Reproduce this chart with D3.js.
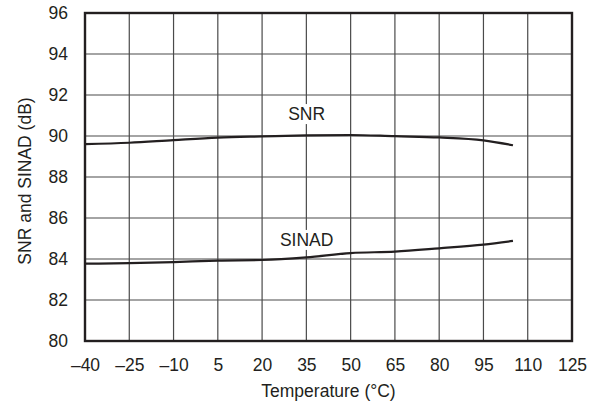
<!DOCTYPE html>
<html>
<head>
<meta charset="utf-8">
<script src="https://cdn.jsdelivr.net/npm/d3@7"></script>
<style>
  body { margin: 0; background: #fff; }
  text { font-family: "Liberation Sans", Arial, sans-serif; fill: #231f20; }
</style>
</head>
<body>
<svg id="chart" width="597" height="404"></svg>
<script>
// chart data
const temps = [-40, -25, -10, 5, 20, 35, 50, 65, 80, 95, 105];
const snr = [89.6, 89.67, 89.8, 89.92, 89.98, 90.03, 90.05, 89.99, 89.93, 89.79, 89.55];
const sinad = [83.77, 83.8, 83.85, 83.92, 83.95, 84.08, 84.29, 84.36, 84.52, 84.7, 84.88];
const xTicks = [-40, -25, -10, 5, 20, 35, 50, 65, 80, 95, 110, 125];
const yTicks = [80, 82, 84, 86, 88, 90, 92, 94, 96];

const margin = { top: 13, right: 25, bottom: 63, left: 85 };
const width = 597 - margin.left - margin.right;
const height = 404 - margin.top - margin.bottom;
const fontSize = 17.5;

const svg = d3.select("#chart");
const g = svg.append("g").attr("transform", `translate(${margin.left},${margin.top})`);

const x = d3.scaleLinear().domain([-40, 125]).range([0, width]);
const y = d3.scaleLinear().domain([80, 96]).range([height, 0]);

// grid
g.selectAll(".vgrid")
  .data(xTicks)
  .enter()
  .append("line")
  .attr("x1", (d) => x(d))
  .attr("x2", (d) => x(d))
  .attr("y1", 0)
  .attr("y2", height)
  .attr("stroke", "#4a4a4a")
  .attr("stroke-width", 1.2);

g.selectAll(".hgrid")
  .data(yTicks)
  .enter()
  .append("line")
  .attr("x1", 0)
  .attr("x2", width)
  .attr("y1", (d) => y(d))
  .attr("y2", (d) => y(d))
  .attr("stroke", "#4a4a4a")
  .attr("stroke-width", 1.2);

// tick labels via axes
const fmt = (d) => (d < 0 ? "\u2013" + Math.abs(d) : String(d));
const xAxis = g.append("g")
  .attr("transform", `translate(0,${height})`)
  .call(d3.axisBottom(x).tickValues(xTicks).tickFormat(fmt).tickSize(0).tickPadding(18));
const yAxis = g.append("g")
  .call(d3.axisLeft(y).tickValues(yTicks).tickSize(0).tickPadding(17));
[xAxis, yAxis].forEach((a) => {
  a.select(".domain").remove();
  a.selectAll("text").attr("font-size", fontSize).attr("font-family", "Liberation Sans, Arial, sans-serif").attr("fill", "#231f20");
});

// curves
const line = d3.line()
  .x((d) => x(d[0]))
  .y((d) => y(d[1]))
  .curve(d3.curveMonotoneX);

[snr, sinad].forEach((series) => {
  g.append("path")
    .datum(temps.map((t, i) => [t, series[i]]))
    .attr("fill", "none")
    .attr("stroke", "#231f20")
    .attr("stroke-width", 2.2)
    .attr("d", line);
});

// curve labels with white backing
const labels = [
  { text: "SNR", t: 35.1, v: 91.07 },
  { text: "SINAD", t: 35.1, v: 84.93 }
];
labels.forEach((l) => {
  const lg = g.append("g");
  const txt = lg.append("text")
    .attr("x", x(l.t))
    .attr("y", y(l.v))
    .attr("text-anchor", "middle")
    .attr("dominant-baseline", "central")
    .attr("font-size", fontSize)
    .text(l.text);
  const bb = txt.node().getBBox();
  lg.insert("rect", "text")
    .attr("x", bb.x - 2)
    .attr("y", bb.y)
    .attr("width", bb.width + 4)
    .attr("height", bb.height)
    .attr("fill", "#fff");
});

// frame
g.append("rect")
  .attr("width", width)
  .attr("height", height)
  .attr("fill", "none")
  .attr("stroke", "#231f20")
  .attr("stroke-width", 2.4);

// axis titles
svg.append("text")
  .attr("x", margin.left + width / 2)
  .attr("y", 391)
  .attr("text-anchor", "middle")
  .attr("dominant-baseline", "central")
  .attr("font-size", fontSize)
  .text("Temperature (\u00B0C)");

svg.append("text")
  .attr("transform", `translate(24.5,181) rotate(-90)`)
  .attr("text-anchor", "middle")
  .attr("dominant-baseline", "central")
  .attr("font-size", fontSize)
  .text("SNR and SINAD (dB)");
</script>
</body>
</html>
